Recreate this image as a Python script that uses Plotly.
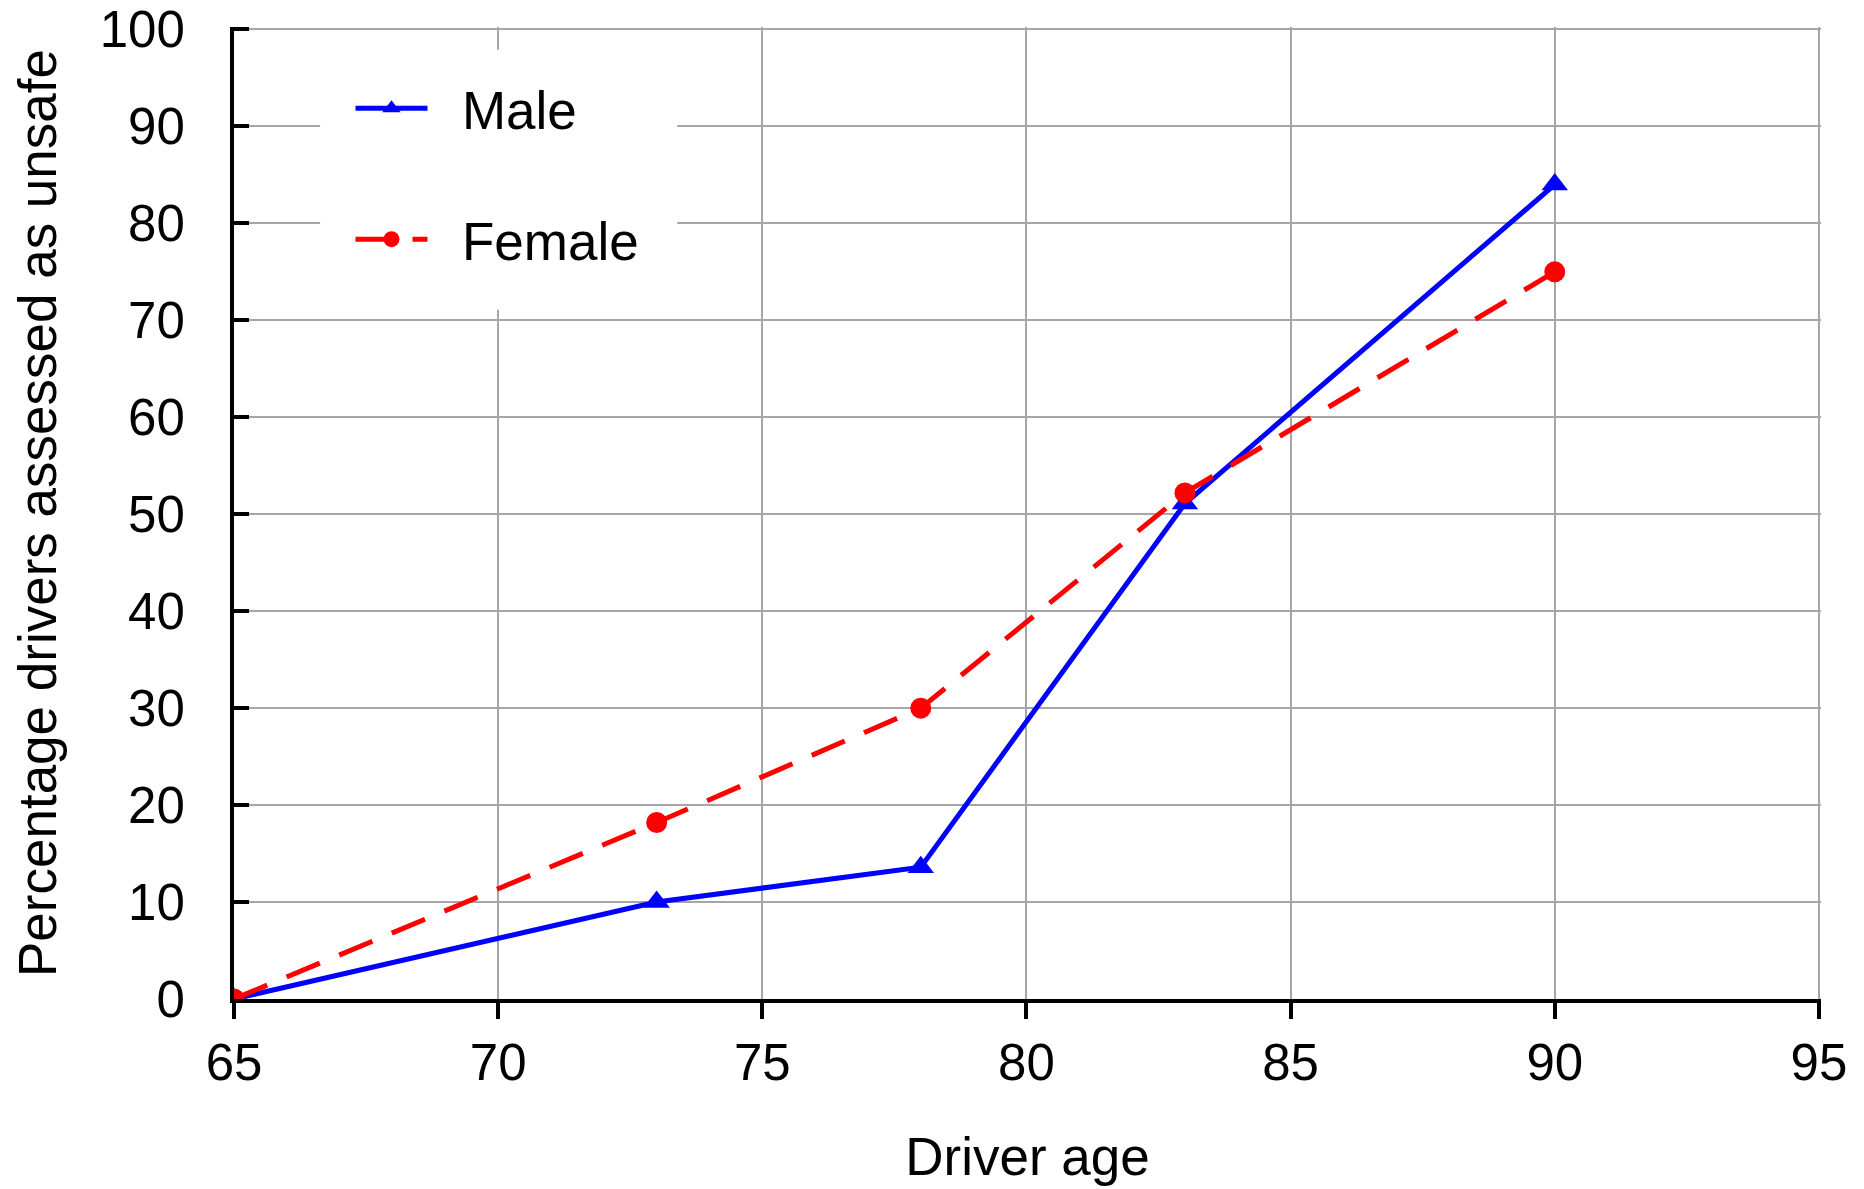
import plotly.graph_objects as go

ages = [65, 73, 78, 83, 90]
male = [0, 10.0, 13.6, 51.1, 84.0]
female = [0, 18.2, 30.0, 52.2, 75.0]

x_ticks = [65, 70, 75, 80, 85, 90, 95]
y_ticks = [0, 10, 20, 30, 40, 50, 60, 70, 80, 90, 100]

FONT = "Liberation Sans, Arial, sans-serif"
NB = "\u00a0"

# small range padding so plotly keeps the gridlines/ticks at 95 and 100
X_PAD = 0.04   # ~2 px
Y_PAD = 0.25   # ~2.4 px

fig = go.Figure()
fig.add_trace(go.Scatter(
    x=ages, y=male, name=NB * 2 + "Male", mode="lines+markers",
    line=dict(color="#0000FF", width=5),
    marker=dict(symbol="triangle-up", size=23, color="#0000FF"),
    legendgroup="m",
))
fig.add_trace(go.Scatter(
    x=ages, y=female, name=NB * 2 + "Female", mode="lines+markers",
    line=dict(color="#FF0000", width=5, dash="36px,21px"),
    marker=dict(symbol="circle", size=21, color="#FF0000"),
    legendgroup="f",
))

# white backdrop of the legend box (above gridlines, below traces)
fig.add_shape(type="rect", xref="x", yref="y",
              x0=66.63, x1=73.39, y0=71.1, y1=97.9,
              fillcolor="white", line=dict(width=0), layer="between")

fig.update_layout(
    width=1864, height=1189,
    margin=dict(l=226, r=51, t=18.6, b=198),
    paper_bgcolor="white", plot_bgcolor="white",
    font=dict(family=FONT, size=51, color="black"),
    legend=dict(
        x=0.0734, y=0.9585, xanchor="left", yanchor="top",
        bgcolor="rgba(0,0,0,0)", borderwidth=0,
        font=dict(family=FONT, size=53, color="black"),
        traceorder="grouped", tracegroupgap=59,
        itemwidth=72,
    ),
    showlegend=True,
)
fig.update_xaxes(
    range=[65, 95 + X_PAD], tickvals=x_ticks, ticktext=[str(v) for v in x_ticks],
    showgrid=True, gridcolor="#A6A6A6", gridwidth=1.8,
    showline=True, linecolor="black", linewidth=4,
    ticks="outside", ticklen=16, tickwidth=4, tickcolor="black",
    zeroline=False, automargin=False, ticklabeloverflow="allow",
    title=dict(text="Driver age", font=dict(family=FONT, size=53), standoff=49),
    tickfont=dict(family=FONT, size=51),
)
fig.update_yaxes(
    range=[0, 100 + Y_PAD], tickvals=y_ticks, ticktext=[str(v) for v in y_ticks],
    showgrid=True, gridcolor="#A6A6A6", gridwidth=1.8,
    showline=True, linecolor="black", linewidth=4,
    ticks="inside", ticklen=15, tickwidth=4, tickcolor="black",
    zeroline=False, automargin=False, ticklabeloverflow="allow",
    title=dict(text="Percentage drivers assessed as unsafe", font=dict(family=FONT, size=53), standoff=31),
    tickfont=dict(family=FONT, size=51),
    ticklabelstandoff=35,
)

fig.write_html("out.html")
